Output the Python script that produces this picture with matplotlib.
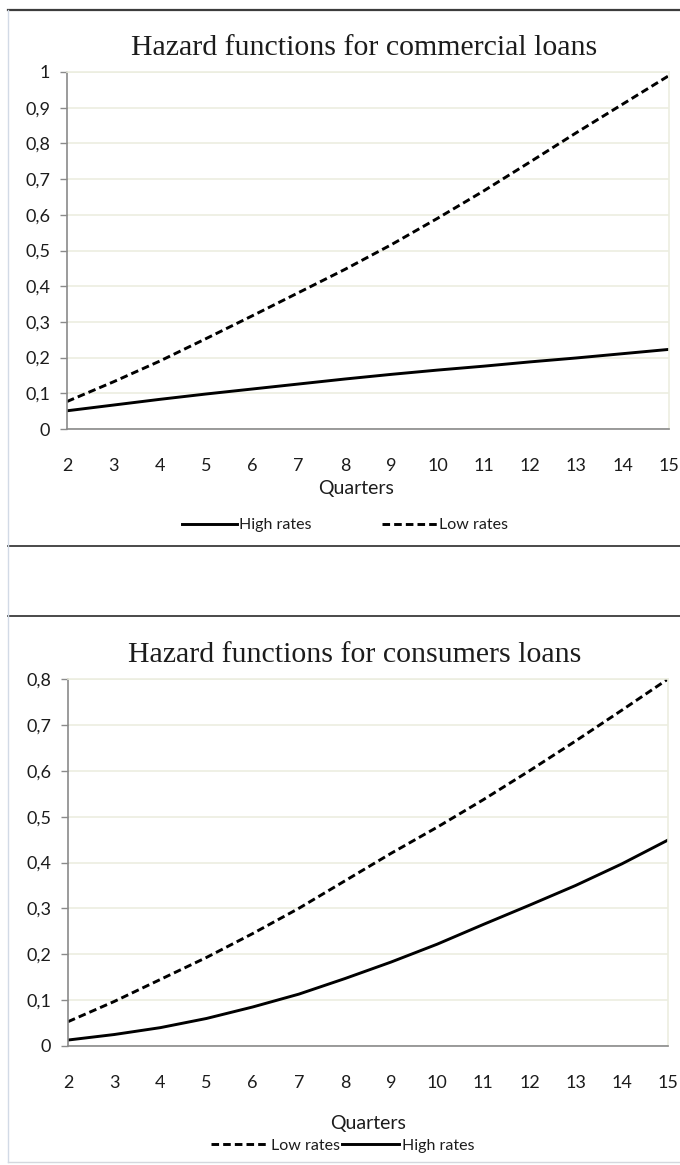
import matplotlib
matplotlib.use("Agg")
import matplotlib.pyplot as plt
from matplotlib.lines import Line2D

# ---- data -------------------------------------------------------------
quarters = [2, 3, 4, 5, 6, 7, 8, 9, 10, 11, 12, 13, 14, 15]

commercial_high = [0.051, 0.067, 0.083, 0.098, 0.112, 0.126, 0.140, 0.153,
                   0.165, 0.176, 0.188, 0.199, 0.211, 0.223]
commercial_low = [0.077, 0.132, 0.190, 0.253, 0.317, 0.382, 0.447, 0.516,
                  0.590, 0.667, 0.748, 0.830, 0.910, 0.990]

consumer_low = [0.053, 0.097, 0.145, 0.193, 0.245, 0.300, 0.360, 0.420,
                0.477, 0.537, 0.600, 0.665, 0.732, 0.800]
consumer_high = [0.013, 0.025, 0.040, 0.060, 0.085, 0.113, 0.147, 0.183,
                 0.222, 0.265, 0.307, 0.350, 0.397, 0.449]

commercial_yticks = [0, 0.1, 0.2, 0.3, 0.4, 0.5, 0.6, 0.7, 0.8, 0.9, 1.0]
commercial_ylabels = ["0", "0,1", "0,2", "0,3", "0,4", "0,5", "0,6", "0,7",
                      "0,8", "0,9", "1"]
consumer_yticks = [0, 0.1, 0.2, 0.3, 0.4, 0.5, 0.6, 0.7, 0.8]
consumer_ylabels = ["0", "0,1", "0,2", "0,3", "0,4", "0,5", "0,6", "0,7", "0,8"]

# ---- figure -----------------------------------------------------------
W, H = 680, 1165
fig = plt.figure(figsize=(W / 100, H / 100), dpi=100)
fig.patch.set_facecolor("white")

SANS = "Lato"
SERIF = "Liberation Serif"
TXT = "#1c1c1c"
GRID = "#eceee0"
AXIS = "#8a8a8a"
DASH = (0, (2.6, 1.4))
LW = 2.1
TICK_FS = 13
LABEL_FS = 14
LEGEND_FS = 11.5
TITLE_FS = 21.5


def px_axes(left, top, right, bottom):
    return fig.add_axes([left / W, 1 - bottom / H, (right - left) / W,
                         (bottom - top) / H])


def style_axes(ax, yticks, ylabels, ymax):
    ax.set_xlim(quarters[0], quarters[-1])
    ax.set_ylim(0, ymax)
    ax.set_xticks(quarters)
    ax.set_xticklabels([str(q) for q in quarters], fontfamily=SANS,
                       fontsize=TICK_FS, color=TXT)
    ax.set_yticks(yticks)
    ax.set_yticklabels(ylabels, fontfamily=SANS, fontsize=TICK_FS, color=TXT)
    ax.tick_params(axis="x", length=0, pad=21)
    ax.tick_params(axis="y", length=5, width=1, color=AXIS, pad=7)
    ax.grid(axis="y", color=GRID, linewidth=1.2)
    ax.set_axisbelow(True)
    for s in ("top", "right"):
        ax.spines[s].set_color(GRID)
        ax.spines[s].set_linewidth(1.2)
    for s in ("left", "bottom"):
        ax.spines[s].set_color(AXIS)
        ax.spines[s].set_linewidth(1.2)


# ---- commercial loans ---------------------------------------------------
ax1 = px_axes(67, 72, 669, 429)
style_axes(ax1, commercial_yticks, commercial_ylabels, 1.0)
h1, = ax1.plot(quarters, commercial_high, color="black", lw=LW,
               label="High rates")
l1, = ax1.plot(quarters, commercial_low, color="black", lw=LW,
               linestyle=DASH, label="Low rates")
ax1.set_title("Hazard functions for commercial loans", fontfamily=SERIF,
              fontsize=TITLE_FS, color=TXT, pad=12, x=0.493)
ax1.set_xlabel("Quarters", fontfamily=SANS, fontsize=LABEL_FS, color=TXT,
               labelpad=4, x=0.48)
ax1.legend(handles=[h1, l1], loc="center", bbox_to_anchor=(0.462, -0.269),
           ncol=2, frameon=False, prop={"family": SANS, "size": LEGEND_FS},
           handlelength=3.45, handletextpad=0.12, columnspacing=4.4,
           borderpad=0, labelcolor=TXT)

# ---- consumers loans ----------------------------------------------------
ax2 = px_axes(68, 679, 668, 1046)
style_axes(ax2, consumer_yticks, consumer_ylabels, 0.8)
l2, = ax2.plot(quarters, consumer_low, color="black", lw=LW,
               linestyle=DASH, label="Low rates")
h2, = ax2.plot(quarters, consumer_high, color="black", lw=LW,
               label="High rates")
ax2.set_title("Hazard functions for consumers loans", fontfamily=SERIF,
              fontsize=TITLE_FS, color=TXT, pad=12, x=0.477)
ax2.set_xlabel("Quarters", fontfamily=SANS, fontsize=LABEL_FS, color=TXT,
               labelpad=17)
ax2.legend(handles=[l2, h2], loc="center", bbox_to_anchor=(0.458, -0.272),
           ncol=2, frameon=False, prop={"family": SANS, "size": LEGEND_FS},
           handlelength=3.6, handletextpad=0.15, columnspacing=0.1,
           borderpad=0, labelcolor=TXT)

# ---- page frame: separators and borders ---------------------------------
def hline(y, color, lw, x0=8):
    fig.add_artist(Line2D([x0 / W, 1], [1 - y / H, 1 - y / H],
                          transform=fig.transFigure, color=color, lw=lw))


hline(10, "#3c3c3c", 1.6)
hline(546, "#3c3c3c", 1.3)
hline(616, "#3c3c3c", 1.3)
hline(1162, "#d4d8de", 1.0)
fig.add_artist(Line2D([8 / W, 8 / W], [1 - 10 / H, 1 - 1162 / H],
                      transform=fig.transFigure, color="#d2dae6", lw=1.0))

fig.savefig("out.png", dpi=100, facecolor="white")
